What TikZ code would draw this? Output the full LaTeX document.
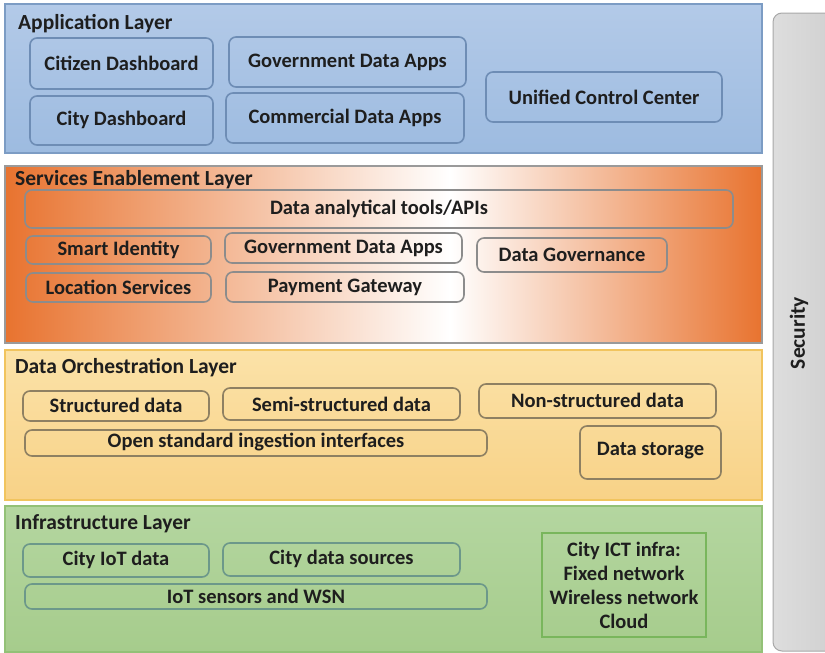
\documentclass[tikz,border=0pt]{standalone}
\usepackage{fontspec}
\setmainfont{Carlito}
\usetikzlibrary{positioning}
\definecolor{appfill}{HTML}{9DBBE0}
\definecolor{appfilltop}{HTML}{B3CAE8}
\definecolor{appline}{HTML}{7C9CC4}
\definecolor{appbox}{HTML}{6E8DB5}
\definecolor{svcorange}{HTML}{E8732F}
\definecolor{svcline}{HTML}{9A9A9A}
\definecolor{svcbox}{HTML}{8C8C8C}
\definecolor{orchfill}{HTML}{F8D287}
\definecolor{orchtop}{HTML}{FBE2A8}
\definecolor{orchline}{HTML}{F1C45E}
\definecolor{orchbox}{HTML}{8E8062}
\definecolor{infill}{HTML}{A6CC8C}
\definecolor{intop}{HTML}{B4D6A0}
\definecolor{inline}{HTML}{93C177}
\definecolor{inbox}{HTML}{6C988A}
\definecolor{ictline}{HTML}{79B65C}
\definecolor{secfill}{HTML}{CFCFCF}
\definecolor{secline}{HTML}{A8A8A8}
\definecolor{txt}{HTML}{1E1E1E}
\tikzset{
  layerlbl/.style={anchor=base west, font=\fontsize{21.5}{24}\selectfont\bfseries, text=txt, inner sep=0pt},
  boxlbl/.style={font=\fontsize{20.5}{23}\selectfont\bfseries, text=txt, inner sep=0pt},
  rbox/.style={rounded corners=7pt, line width=1.6pt},
}
\begin{document}
\begin{tikzpicture}[x=1pt,y=-1pt]
\useasboundingbox (0,0) rectangle (825,653);
\fill[white] (0,0) rectangle (825,653);

% Security column
\shade[top color=secfill, bottom color=secfill!90!gray, left color=secfill!70!white, right color=secfill, rounded corners=9pt, draw=secline, line width=1pt]
  (773,13) rectangle (840,651);
\node[rotate=90, boxlbl, font=\fontsize{21.5}{24}\selectfont\bfseries] (sec) at (799,333) {Security};

% ===== Application layer =====
\shade[top color=appfilltop, bottom color=appfill, draw=appline, line width=1.2pt] (5,4) rectangle (762,153);
\node[layerlbl] (applbl) at (18,29) {Application Layer};
\draw[rbox, draw=appbox] (30,38) rectangle (213,89);
\node[boxlbl] (cd) at (121.5,63) {Citizen Dashboard};
\draw[rbox, draw=appbox] (30,96) rectangle (213,145);
\node[boxlbl] (cityd) at (121.5,120) {City Dashboard};
\draw[rbox, draw=appbox] (229,37) rectangle (466,87);
\node[boxlbl] (gda) at (347.5,62) {Government Data Apps};
\draw[rbox, draw=appbox] (226,93) rectangle (464,143);
\node[boxlbl] (cda) at (345,118) {Commercial Data Apps};
\draw[rbox, draw=appbox] (486,72) rectangle (722,122);
\node[boxlbl] (ucc) at (604,97) {Unified Control Center};

% ===== Services Enablement layer =====
\shade[left color=svcorange, right color=white] (5,166) rectangle (450,343);
\shade[left color=white, right color=svcorange] (450,166) rectangle (762,343);
\draw[draw=svcline, line width=1.2pt] (5,166) rectangle (762,343);
\node[layerlbl] (svclbl) at (15,185) {Services Enablement Layer};
\draw[rbox, draw=svcbox] (25,190) rectangle (733,228);
\node[boxlbl] (dat) at (379,209) {Data analytical tools/APIs};
\draw[rbox, draw=svcbox] (26,236) rectangle (211,264);
\node[boxlbl] (si) at (118.5,250) {Smart Identity};
\draw[rbox, draw=svcbox] (26,273) rectangle (211,302);
\node[boxlbl] (ls) at (118.5,287) {Location Services};
\draw[rbox, draw=svcbox] (225,233) rectangle (462,263);
\node[boxlbl] (gda2) at (343.5,248) {Government Data Apps};
\draw[rbox, draw=svcbox] (226,272) rectangle (464,302);
\node[boxlbl] (pg) at (345,287) {Payment Gateway};
\draw[rbox, draw=svcbox] (477,238) rectangle (667,272);
\node[boxlbl] (dg) at (572,255) {Data Governance};

% ===== Data Orchestration layer =====
\shade[top color=orchtop, bottom color=orchfill, draw=orchline, line width=1.2pt] (5,350) rectangle (762,500);
\node[layerlbl] (orchlbl) at (15,373) {Data Orchestration Layer};
\draw[rbox, draw=orchbox] (23,391) rectangle (209,421);
\node[boxlbl] (sd) at (116,405) {Structured data};
\draw[rbox, draw=orchbox] (223,388) rectangle (460,420);
\node[boxlbl] (ssd) at (341.5,404) {Semi-structured data};
\draw[rbox, draw=orchbox] (25,430) rectangle (487,456);
\node[boxlbl] (osi) at (256,442) {Open standard ingestion interfaces};
\draw[rbox, draw=orchbox] (479,384) rectangle (716,418);
\node[boxlbl] (nsd) at (597.5,400) {Non-structured data};
\draw[rbox, draw=orchbox] (580,426) rectangle (721,479);
\node[boxlbl] (ds) at (650.5,451) {Data storage};

% ===== Infrastructure layer =====
\shade[top color=intop, bottom color=infill, draw=inline, line width=1.2pt] (5,506) rectangle (762,652);
\node[layerlbl] (inlbl) at (15,529) {Infrastructure Layer};
\draw[rbox, draw=inbox] (23,544) rectangle (209,577);
\node[boxlbl] (ciot) at (116,560) {City IoT data};
\draw[rbox, draw=inbox] (223,543) rectangle (460,576);
\node[boxlbl] (cds) at (341.5,559) {City data sources};
\draw[rbox, draw=inbox] (25,584) rectangle (487,609);
\node[boxlbl] (wsn) at (256,596) {IoT sensors and WSN};
\draw[draw=ictline, line width=1.4pt] (542,533) rectangle (706,637);
\node[boxlbl, align=center, font=\fontsize{20.5}{24}\selectfont\bfseries] (ict) at (624,585) {City ICT infra:\\Fixed network\\Wireless network\\Cloud};
\end{tikzpicture}
\end{document}
